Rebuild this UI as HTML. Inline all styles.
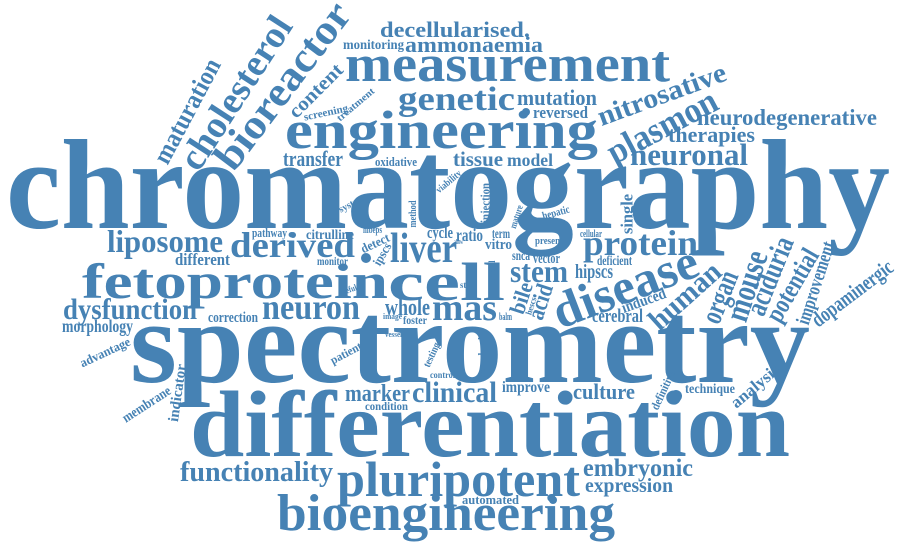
<!DOCTYPE html>
<html><head><meta charset="utf-8"><style>
html,body{margin:0;padding:0;background:#fff;}
svg{display:block;}
text{font-family:"Liberation Serif",serif;font-weight:bold;fill:#4682b4;}
</style></head>
<body>
<svg id="cloud" width="900" height="545" viewBox="0 0 900 545" xmlns="http://www.w3.org/2000/svg"></svg>
<script>
// horizontal words: text, left x, baseline y, font size, length
const flatWords = [
["chromatography",6,228,128,884],
["spectrometry",130,382,118,680],
["differentiation",190,456,94,600],
["fetoprotein",82,298,50,306],
["cell",388,300,54,117],
["engineering",285,148,54,313],
["measurement",345,81,52,325],
["bioengineering",277,530,52,338],
["pluripotent",337,496,50,243],
["decellularised.",380,37,22,150],
["ammonaemia",405,52,22,138],
["monitoring",343,49,14,61],
["genetic",398,110,34,117],
["mutation",517,105,22,80],
["reversed",533,118,17,55],
["neurodegenerative",697,125,23,180],
["therapies",668,142,22,87],
["neuronal",630,165,31,118],
["tissue",453,166,21,50],
["model",507,166,18,46],
["transfer",283,166,22,60],
["oxidative",375,166,13,42],
["liposome",107,252,32,116],
["derived",230,257,36,125],
["liver",390,262,42,67],
["pathway",252,237,13,35],
["citrulline",306,239,14,48],
["hibeps",363,233,10,19],
["different",175,265,17,55],
["monitor",317,265,12,31],
["dysfunction",63,319,30,134],
["correction",208,322,15,50],
["neuron",262,319,36,98],
["whole",385,315,24,45],
["mas",432,320,38,65],
["morphology",62,332,18,71],
["image",383,319,8,19],
["foster",403,324,12,24],
["vessel",385,337,8,17],
["cycle",427,238,17,26],
["allow",454,244,7,9],
["ratio",456,241,18,27],
["term",492,238,14,18],
["vitro",485,249,15,27],
["present",535,244,11,28],
["cellular",580,237,10,22],
["snca",512,260,14,18],
["vector",533,263,15,27],
["stem",510,282,32,58],
["hipscs",575,278,20,38],
["deficient",597,265,14,35],
["str",460,288,9,10],
["balm",499,320,10,13],
["protein",583,255,36,115],
["cerebral",592,322,19,51],
["marker",345,401,24,65],
["condition",365,410,12,43],
["clinical",412,402,30,85],
["improve",502,392,16,48],
["culture",573,399,22,62],
["technique",685,393,14,50],
["functionality",180,481,28,153],
["embryonic",583,476,25,110],
["expression",585,492,20,88],
["automated",462,504,13,57],
["control",430,378,9,25]
];
// rotated words: text, centre x, centre y, font size, length, angle
const turnedWords = [
["cholesterol",236,93,38,175,-57],
["bioreactor",283,86,42,198,-53],
["maturation",187,111,26,115,-62],
["content",316,91,20,68,-45],
["screening",326,113,11,45,-12],
["treatment",356,105,10,46,-40],
["nitrosative",662,95,28,135,-20],
["plasmon",662,126,36,120,-28],
["system",352,204,10,28,-28],
["method",413,214,11,27,-90],
["detect",375,243,13,30,-25],
["ipscs",382,254,13,24,-60],
["useful",348,290,9,18,-20],
["advantage",105,352,13,54,-25],
["patient",346,353,12,34,-28],
["viability",449,182,10,30,-40],
["injection",485,203,13,40,-90],
["mature",517,217,10,24,-72],
["hepatic",556,213,11,28,-15],
["crucial",492,272,9,23,-90],
["bile",521,298,22,32,-72],
["acid",541,302,24,36,-72],
["hescs",531,306,9,18,-72],
["single",627,214,17,40,-90],
["disease",625,286,50,152,-21],
["induced",644,301,16,46,-20],
["human",685,296,30,86,-42],
["organ",720,297,30,54,-68],
["mouse",747,286,34,72,-72],
["aciduria",770,276,30,82,-68],
["potential",792,285,27,80,-60],
["improvement",816,283,20,86,-72],
["dopaminergic",852,293,22,96,-37],
["membrane",147,405,14,55,-33],
["indicator",178,393,15,58,-82],
["definitive",663,390,12,42,-65],
["analysis",755,386,17,58,-40],
["standard",483,357,10,40,-90],
["testing",432,355,11,26,-65]
];
// decorative dots: x, y, r
const dotList = [[366,258,5],[526,112,4],[293,235,3],[565,396,5],[676,396,6],[553,500,4]];

const svg = document.getElementById('cloud');
const NS = 'http://www.w3.org/2000/svg';
flatWords.forEach(w => {
  const t = document.createElementNS(NS,'text');
  t.setAttribute('x', w[1]);
  t.setAttribute('y', w[2]);
  t.setAttribute('font-size', w[3]);
  t.setAttribute('textLength', w[4]);
  t.setAttribute('lengthAdjust', 'spacingAndGlyphs');
  t.textContent = w[0];
  
  
  svg.appendChild(t);
});
turnedWords.forEach(w => {
  const t = document.createElementNS(NS,'text');
  t.setAttribute('x', 0);
  t.setAttribute('y', 0);
  t.setAttribute('text-anchor', 'middle');
  t.setAttribute('dominant-baseline', 'central');
  t.setAttribute('font-size', w[3]);
  t.setAttribute('textLength', w[4]);
  t.setAttribute('lengthAdjust', 'spacingAndGlyphs');
  t.setAttribute('transform', 'translate(' + w[1] + ',' + w[2] + ') rotate(' + w[5] + ')');
  t.textContent = w[0];
  
  
  svg.appendChild(t);
});
dotList.forEach(d => {
  const c = document.createElementNS(NS,'circle');
  c.setAttribute('cx', d[0]);
  c.setAttribute('cy', d[1]);
  c.setAttribute('r', d[2]);
  c.setAttribute('fill', '#4682b4');
  
  
  svg.appendChild(c);
});
</script>
</body></html>
